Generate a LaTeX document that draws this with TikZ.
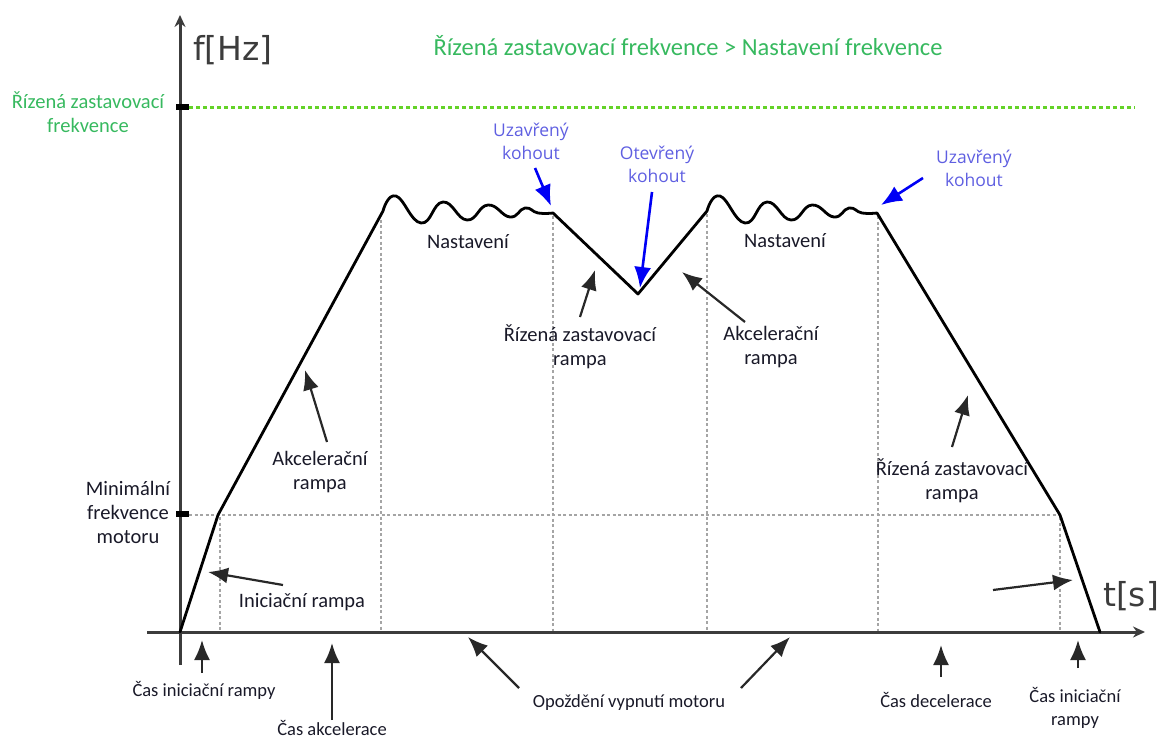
\documentclass[tikz,border=0pt]{standalone}
\usepackage{fontspec}
\setmainfont{Carlito}
\newfontfamily\bluefont{Open Sans}
\newfontfamily\axisfont{DejaVu Sans}
\usetikzlibrary{arrows.meta}
\definecolor{titlegreen}{RGB}{55,185,95}
\definecolor{linegreen}{RGB}{100,210,40}
\definecolor{labelblue}{RGB}{95,95,225}
\definecolor{tapblue}{RGB}{0,0,245}
\definecolor{axisgrey}{RGB}{60,60,60}
\definecolor{guidegrey}{RGB}{165,165,165}
\definecolor{inkdark}{RGB}{25,25,40}
\definecolor{arrowgrey}{RGB}{40,40,40}
\begin{document}
\begin{tikzpicture}[x=1pt,y=-1pt,
  lbl/.style={text=inkdark, font=\fontsize{20.5}{24}\selectfont, align=center, inner sep=0pt},
  botlbl/.style={text=inkdark, font=\fontsize{18.5}{23}\selectfont, align=center, inner sep=0pt},
  greenlbl/.style={text=titlegreen, align=center, inner sep=0pt},
  bluelbl/.style={text=labelblue, font=\bluefont\fontsize{17.5}{23}\selectfont, align=center, inner sep=0pt},
  axislbl/.style={text=axisgrey, font=\axisfont\fontsize{33}{36}\selectfont, inner sep=0pt},
  axis/.style={draw=axisgrey, line width=3pt},
  guide/.style={draw=guidegrey, line width=2.2pt, dash pattern=on 3pt off 2.5pt},
  stopline/.style={draw=linegreen, line width=3pt, dash pattern=on 4pt off 3pt},
  curve/.style={draw=black, line width=2.8pt, line join=round, line cap=round},
  pointer/.style={draw=arrowgrey, line width=2.2pt, -{Latex[length=20pt,width=16pt]}},
  tap/.style={draw=tapblue, line width=2.6pt, -{Latex[length=21pt,width=17pt]}},
  tickmark/.style={draw=black, line width=6pt},
]
\useasboundingbox (0,0) rectangle (1163,739);

% axes end points
\coordinate (yfoot) at (180,665);
\coordinate (ytop) at (180,15);
\coordinate (xleft) at (147,632);
\coordinate (xright) at (1145,632);

% key points of the frequency profile
\coordinate (o) at (180,632);
\coordinate (kneeA) at (218,515);
\coordinate (plateauA) at (383,211);
\coordinate (closeA) at (553,213);
\coordinate (valley) at (638,294);
\coordinate (plateauB) at (707,211);
\coordinate (closeB) at (877,213);
\coordinate (kneeB) at (1060,515);
\coordinate (stop) at (1100,632);

% dotted guide lines
\draw[guide] (220,517) -- (220,632);
\draw[guide] (381,214) -- (381,632);
\draw[guide] (553,216) -- (553,632);
\draw[guide] (707,214) -- (707,632);
\draw[guide] (878,216) -- (878,632);
\draw[guide] (1060,517) -- (1060,632);
\draw[guide] (189,515) -- (1060,515);

% controlled stop frequency level
\draw[stopline] (189,107) -- (1135,107);

% axes
\draw[axis, -{Stealth[length=12pt,width=11pt]}] (yfoot) -- (ytop);
\draw[axis, -{Stealth[length=12pt,width=11pt]}] (xleft) -- (xright);
\draw[tickmark] (176,107) -- (189,107);
\draw[tickmark] (176,514) -- (189,514);

% frequency profile
\draw[curve] (o) -- (kneeA) -- (plateauA)
  -- plot[smooth, tension=0.8] coordinates {(383,211) (396,196) (421,223) (443,202) (467,220) (488,205) (510,217) (525,208) (538,213) (553,213)}
  -- (valley) -- (plateauB)
  -- plot[smooth, tension=0.8] coordinates {(707,211) (720,196) (745,223) (767,202) (791,220) (812,205) (834,217) (849,208) (862,213) (877,213)}
  -- (kneeB) -- (stop);

% axis labels and title
\node[axislbl] (fhz) at (233,50) {f[Hz]};
\node[axislbl] (ts) at (1131,596) {t[s]};
\node[greenlbl, font=\fontsize{24.5}{28}\selectfont] (title) at (688,46) {Řízená zastavovací frekvence > Nastavení frekvence};
\node[greenlbl, font=\fontsize{20.5}{24}\selectfont] (stopfreq) at (88,112) {Řízená zastavovací\\frekvence};
\node[lbl] (minfreq) at (128,512) {Minimální\\frekvence\\motoru};

% labels inside the chart
\node[lbl] (initramp) at (302,602) {Iniciační rampa};
\node[lbl] (accA) at (320,472) {Akcelerační\\rampa};
\node[lbl] (setA) at (468,242) {Nastavení};
\node[lbl] (setB) at (785,241) {Nastavení};
\node[lbl] (stopA) at (580,347) {Řízená zastavovací\\rampa};
\node[lbl] (accB) at (771,347) {Akcelerační\\rampa};
\node[lbl] (stopB) at (952,481) {Řízená zastavovací\\rampa};
\node[bluelbl] (closedA) at (531,141.5) {Uzavřený\\kohout};
\node[bluelbl] (opened) at (657,164) {Otevřený\\kohout};
\node[bluelbl] (closedB) at (974,168) {Uzavřený\\kohout};

% labels below the time axis
\node[botlbl] (tinitA) at (204,690) {Čas iniciační rampy};
\node[botlbl] (tacc) at (332,728) {Čas akcelerace};
\node[botlbl] (delay) at (629,703) {Opoždění vypnutí motoru};
\node[botlbl] (tdec) at (936,700) {Čas decelerace};
\node[botlbl] (tinitB) at (1075,707.5) {Čas iniciační\\rampy};

% pointer ends
\coordinate (p1t) at (283,585); \coordinate (p1h) at (208,572);
\coordinate (p2t) at (327,442); \coordinate (p2h) at (305,370);
\coordinate (p3t) at (580,317); \coordinate (p3h) at (595,270);
\coordinate (p4t) at (745,322); \coordinate (p4h) at (682,272);
\coordinate (p5t) at (952,447); \coordinate (p5h) at (968,395);
\coordinate (p6t) at (993,590); \coordinate (p6h) at (1073,580);
\coordinate (b1t) at (202,673); \coordinate (b1h) at (202,640);
\coordinate (b2t) at (332,720); \coordinate (b2h) at (332,643);
\coordinate (b3t) at (519,688); \coordinate (b3h) at (468,637);
\coordinate (b4t) at (741,688); \coordinate (b4h) at (790,637);
\coordinate (b5t) at (941,677); \coordinate (b5h) at (941,645);
\coordinate (b6t) at (1078,668); \coordinate (b6h) at (1078,640);
\coordinate (v1t) at (535,168); \coordinate (v1h) at (551,206);
\coordinate (v2t) at (652,192); \coordinate (v2h) at (640,288);
\coordinate (v3t) at (923,178); \coordinate (v3h) at (881,205);

% black pointers
\draw[pointer] (p1t) -- (p1h);
\draw[pointer] (p2t) -- (p2h);
\draw[pointer] (p3t) -- (p3h);
\draw[pointer] (p4t) -- (p4h);
\draw[pointer] (p5t) -- (p5h);
\draw[pointer] (p6t) -- (p6h);
\draw[pointer] (b1t) -- (b1h);
\draw[pointer] (b2t) -- (b2h);
\draw[pointer] (b3t) -- (b3h);
\draw[pointer] (b4t) -- (b4h);
\draw[pointer] (b5t) -- (b5h);
\draw[pointer] (b6t) -- (b6h);

% valve pointers
\draw[tap] (v1t) -- (v1h);
\draw[tap] (v2t) -- (v2h);
\draw[tap] (v3t) -- (v3h);
\end{tikzpicture}
\end{document}
